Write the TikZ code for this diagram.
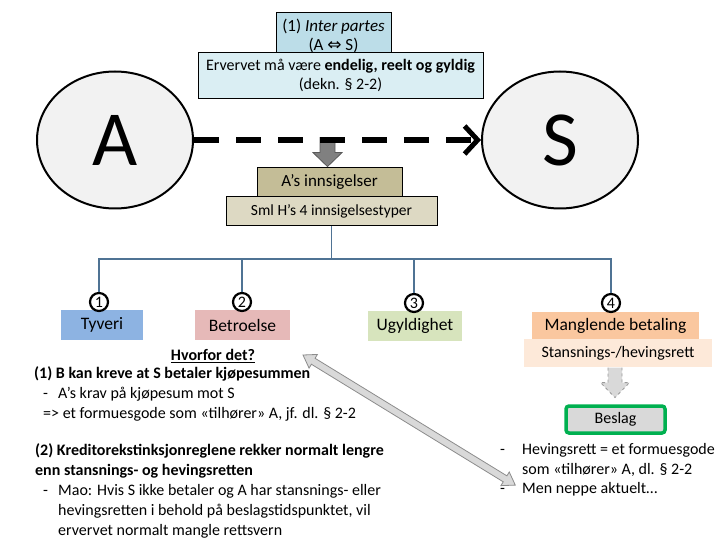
\documentclass[tikz,border=0pt]{standalone}
\usepackage{fontspec}
\setmainfont{Carlito}
\newfontfamily\symfont{DejaVu Sans}
\usetikzlibrary{positioning,arrows.meta,shapes.geometric}

\definecolor{partesblue}{HTML}{BCDDE8}
\definecolor{ervblue}{HTML}{DAEEF3}
\definecolor{circlegray}{HTML}{F2F2F2}
\definecolor{innsigtan}{HTML}{C4BD97}
\definecolor{smltan}{HTML}{DDD9C3}
\definecolor{treeblue}{HTML}{4F7394}
\definecolor{tyveriblue}{HTML}{8DB3E2}
\definecolor{betroelsepink}{HTML}{E6B9B8}
\definecolor{ugyldiggreen}{HTML}{D7E4BD}
\definecolor{manglorange}{HTML}{FAC79F}
\definecolor{stanspeach}{HTML}{FDE9D9}
\definecolor{beslaggreen}{HTML}{00B050}
\definecolor{beslaggray}{HTML}{D9D9D9}

\begin{document}
\begin{tikzpicture}[
  x=1pt, y=-1pt,
  font=\fontsize{16}{20}\selectfont,
  party/.style={ellipse, draw, line width=2pt, fill=circlegray, minimum width=156pt, minimum height=137pt, inner sep=0pt, font=\fontsize{78}{80}\selectfont},
  infobox/.style={draw, line width=0.8pt, fill=ervblue, align=center, inner sep=0pt, font=\fontsize{16}{19}\selectfont},
  tanbox/.style={draw, line width=0.8pt, align=center, inner sep=0pt, minimum height=29pt},
  typebox/.style={align=center, inner sep=0pt, minimum height=30pt, font=\fontsize{17.5}{20}\selectfont},
  numdot/.style={circle, draw, line width=2.2pt, fill=white, minimum size=18pt, inner sep=0pt},
  tree/.style={treeblue, line width=1.8pt},
  claim/.style={-{Straight Barb[length=13pt,width=28pt,line width=5pt]}, line width=6pt, dash pattern=on 25pt off 17pt},
  blockarrow/.style={fill=gray!100!white, draw=black!65, line width=0.8pt},
  notetext/.style={anchor=north west, align=left, inner sep=0pt}
]
\useasboundingbox (0,0) rectangle (720,540);

% Parties and the top boxes
\node[party] (A) at (115,140) {A};
\node[party] (S) at (560,140) {S};

\node[infobox, fill=partesblue, minimum width=115pt, minimum height=48pt, font=\fontsize{17}{19}\selectfont] (inter) at (333.5,36) {(1) \textit{Inter partes}\\(A {\symfont ⇔} S)};
\node[infobox, minimum width=285pt, minimum height=46pt] (erv) at (340.5,75) {Ervervet må være \textbf{endelig, reelt og gyldig}\\(dekn. § 2-2)};

% Objections
\node[tanbox, fill=innsigtan, minimum width=145pt, font=\fontsize{17}{20}\selectfont] (innsig) at (329.5,181.5) {A’s innsigelser};
\node[tanbox, fill=smltan, minimum width=211pt, below=0pt of innsig, xshift=2pt, font=\fontsize{15.5}{19}\selectfont] (sml) {Sml H’s 4 innsigelsestyper};

\begin{scope}[shift={(innsig.north)}, xshift=-2pt]
  \draw[blockarrow] (0,0) -- (-14.5,-14) -- (-7.5,-14) -- (-7.5,-29) -- (7.5,-29) -- (7.5,-14) -- (14.5,-14) -- cycle;
\end{scope}

\draw[claim] (A) -- (S);

% The four types
\node[typebox, fill=tyveriblue, minimum width=82pt] (tyveri) at (102,325) {Tyveri};
\node[typebox, fill=betroelsepink, minimum width=95pt] (betro) at (242.5,325) {Betroelse};
\node[typebox, fill=ugyldiggreen, minimum width=94pt] (ugyld) at (415,326) {Ugyldighet};
\node[typebox, fill=manglorange, minimum width=167pt, minimum height=27pt] (mangl) at (615.5,325.5) {Manglende betaling};
\node[typebox, fill=stanspeach, minimum width=188pt, minimum height=28pt, below=0pt of mangl, xshift=2.5pt, font=\fontsize{16}{19}\selectfont] (stans) {Stansnings-/hevingsrett};

\coordinate (hub) at (sml.south |- 0,259);
\node[numdot] (n1) at (99,302) {1};
\node[numdot] (n2) at (242,302) {2};
\node[numdot] (n3) at (414,303) {3};
\node[numdot] (n4) at (611,303) {4};
\foreach \n in {n1,n2,n3,n4}
  \draw[tree] (sml.south) -- (hub) -| (\n.north);

% Beslag
\begin{scope}[shift={(stans.south)}, xshift=-3pt]
  \draw[fill=beslaggray, draw=gray!80, dashed, line width=0.8pt] (-7,0) -- (-7,15) -- (-14.5,15) -- (0,30) -- (14.5,15) -- (7,15) -- (7,0);
\end{scope}
\node[draw=beslaggreen, line width=3.5pt, fill=beslaggray, rounded corners=3pt, minimum width=99pt, minimum height=27pt, inner sep=0pt] (beslag) at (615.5,419.5) {Beslag};

% Explanations
\node[font=\fontsize{16}{20}\selectfont\bfseries] (why) at (213,356) {\underline{Hvorfor det?}};
\node[notetext] (reason1) at (34,366.5) {\textbf{(1) B kan kreve at S betaler kjøpesummen}\\\hspace*{9pt}\makebox[15pt][l]{-}A’s krav på kjøpesum mot S\\\hspace*{9pt}=> et formuesgode som «tilhører» A, jf. dl. § 2-2};
\node[notetext] (reason2) at (35,443.5) {\textbf{(2) Kreditorekstinksjonreglene rekker normalt lengre}\\\textbf{enn stansnings- og hevingsretten}\\\hspace*{8pt}\makebox[15pt][l]{-}Mao: Hvis S ikke betaler og A har stansnings- eller\\\hspace*{23pt}hevingsretten i behold på beslagstidspunktet, vil\\\hspace*{23pt}ervervet normalt mangle rettsvern};
\node[notetext, font=\fontsize{16}{19.5}\selectfont] (hevnote) at (500,443.5) {\makebox[22pt][l]{-}Hevingsrett = et formuesgode\\\hspace*{22pt}som «tilhører» A, dl. § 2-2\\\makebox[22pt][l]{-}Men neppe aktuelt…};

% Link between the notes
\coordinate (pullA) at (303,355);
\begin{scope}[shift={(pullA)}, rotate=-31.5]
  \draw[fill=beslaggray, draw=gray!90, line width=0.8pt] (0,0) -- (12,-8) -- (12,-3.5) -- (237,-3.5) -- (237,-8) -- (249,0) -- (237,8) -- (237,3.5) -- (12,3.5) -- (12,8) -- cycle;
\end{scope}

\end{tikzpicture}
\end{document}
